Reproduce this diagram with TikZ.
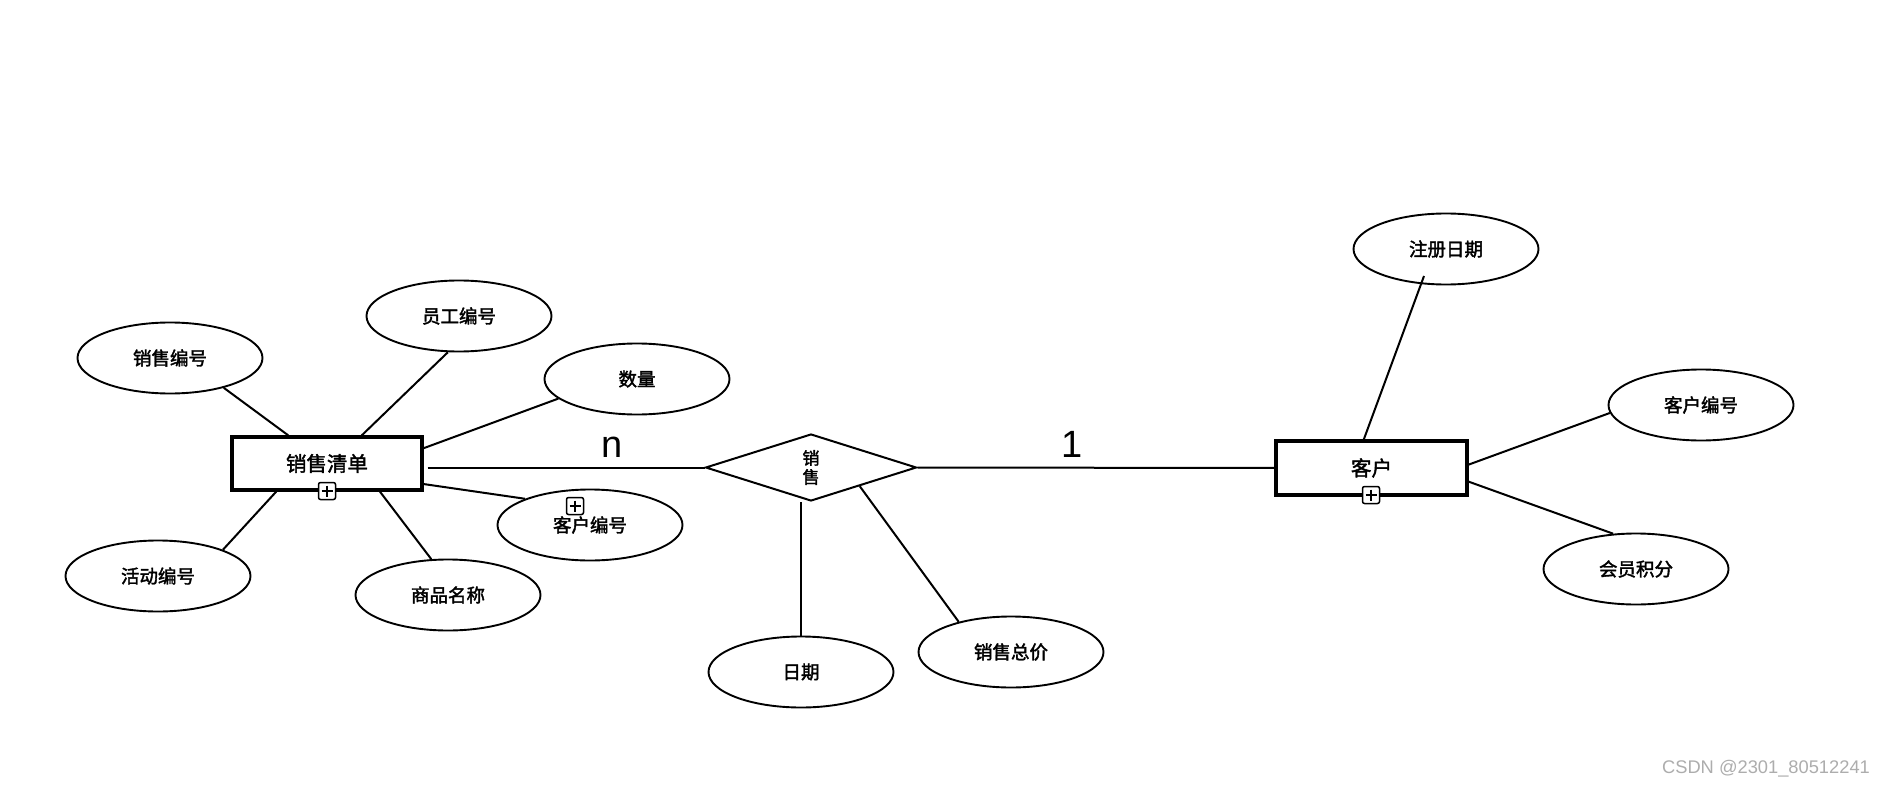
\documentclass[tikz,border=0pt]{standalone}
\usepackage{fontspec}
\usetikzlibrary{shapes.geometric}
\newfontfamily\cjk[FakeBold=2]{Noto Sans CJK SC}
\newfontfamily\lat{Liberation Sans}
\begin{document}
\begin{tikzpicture}[x=1pt,y=-1pt,
  attr/.style={ellipse, draw, line width=1.9pt, minimum width=185pt, minimum height=71pt, inner sep=0pt, font=\cjk\fontsize{18.5}{20}\selectfont},
  ent/.style={rectangle, draw, line width=3.3pt, inner sep=0pt, font=\cjk\fontsize{20.5}{22}\selectfont},
  rel/.style={diamond, draw, line width=2pt, inner sep=0pt, minimum width=211pt, minimum height=67pt, aspect=3.15, align=center, font=\cjk\fontsize{17}{19}\selectfont},
  conn/.style={line width=2pt},
  card/.style={inner sep=0pt, font=\lat\fontsize{38}{40}\selectfont},
  plusbox/.style={draw, line width=1.5pt, rounded corners=2pt, minimum size=17pt, inner sep=0pt, fill=white,
    path picture={\draw[line width=1.5pt] ([yshift=-3pt]path picture bounding box.north) -- ([yshift=3pt]path picture bounding box.south)
      ([xshift=3pt]path picture bounding box.west) -- ([xshift=-3pt]path picture bounding box.east);}}
]
\useasboundingbox[fill=white] (0,0) rectangle (1889,789);

% entities and relation
\node[ent, minimum width=190pt, minimum height=53pt] (r1) at (327,463.5) {销售清单};
\node[ent, minimum width=191pt, minimum height=54pt] (r2) at (1371.5,468) {客户};
\node[rel] (d) at (811,467.5) {销\\售};

% attributes
\node[attr] (e1) at (170,358) {销售编号};
\node[attr] (e2) at (459,316) {员工编号};
\node[attr] (e3) at (637,379) {数量};
\node[attr] (e4) at (590,525) {\raisebox{-0.5ex}{客户编号}};
\node[attr] (e5) at (158,576) {活动编号};
\node[attr] (e6) at (448,595) {商品名称};
\node[attr] (e7) at (801,672) {日期};
\node[attr] (e8) at (1011,652) {销售总价};
\node[attr] (e9) at (1446,249) {注册日期};
\node[attr] (e10) at (1701,405) {客户编号};
\node[attr] (e11) at (1636,569) {会员积分};

% connectors
\draw[conn] (e1.-29) -- (r1.144);
\draw[conn] (e2.-107) -- (r1.39);
\draw[conn] (e3.-166) -- (r1.9.5);
\draw[conn] ([xshift=4pt]r1.east |- d.west) -- (d.west);
\draw[conn] (e4.158) -- (r1.-12.7);
\draw[conn] (e5.22) -- (r1.-151);
\draw[conn] (e6.115) -- (r1.-28.4);
\draw[conn] (e7.north |- d.south) -- (e7.north);
\draw[conn] (d.-21) -- (e8.150);
\draw[conn] (d.east) -- ([xshift=3pt]r2.west);
\draw[conn] ([shift={(-22,27)}]e9.center) -- (r2.105.5);
\draw[conn] (e10.-175) -- (r2.2.4);
\draw[conn] (e11.123) -- (r2.-8);

% expand markers
\node[plusbox] (p1) at (327,491) {};
\node[plusbox] (p2) at (1371,495) {};
\node[plusbox] (p3) at (575,506) {};

% cardinalities
\node[card, anchor=base] (cn) at (612,457) {n};
\node[card, anchor=base] (c1) at (1072,457) {1};

% watermark
\node[font=\lat\fontsize{18.3}{20}\selectfont, text=black!32, inner sep=0pt] (wm) at (1766,769) {CSDN @2301\_80512241};
\end{tikzpicture}
\end{document}
